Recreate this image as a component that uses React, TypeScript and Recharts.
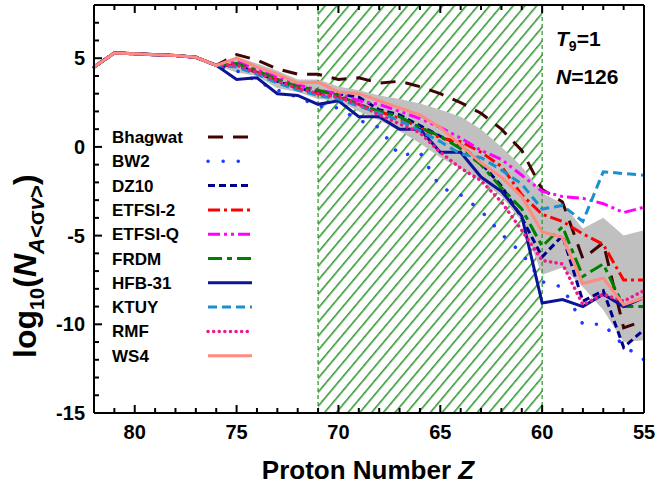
import React from "react";
import {
  ComposedChart,
  Line,
  Area,
  XAxis,
  YAxis,
  ReferenceArea,
  ReferenceLine,
  Legend,
  Customized,
} from "recharts";

const FONT = '"Liberation Sans", Arial, sans-serif';

// proton number, left to right on the plot
const protonZ = [82, 81, 80, 79, 78, 77, 76, 75, 74, 73, 72, 71, 70, 69, 68, 67, 66, 65, 64, 63, 62, 61, 60, 59, 58, 57, 56, 55];

// Z = 82..76, every model sits on the same curve here
const sharedHead = [4.5, 5.3, 5.25, 5.2, 5.15, 5.05, 4.6];

// Z = 75..55
const bhagwat = [5.2, 4.9, 4.4, 4.1, 4.1, 3.8, 3.9, 3.6, 3.7, 3.4, 3.0, 2.5, 1.9, 1.0, -0.2, -2.4, -3.1, -6.3, -5.4, -10.2, -9.8];
const bw2 = [4.3, 3.7, 3.2, 2.8, 2.3, 2.2, 1.5, 1.1, -0.5, -0.3, -2.3, -2.7, -3.6, -4.9, -6.0, -7.6, -7.9, -10.0, -10.0, -11.2, -12.0];
const dz10 = [4.6, 4.2, 3.7, 3.3, 3.1, 3.0, 2.8, 2.1, 1.8, 1.2, 0.6, 0.1, -0.9, -2.2, -4.0, -6.2, -5.0, -8.7, -8.1, -11.3, -10.3];
const etfsi2 = [4.6, 4.2, 3.8, 3.3, 3.0, 2.8, 2.4, 2.0, 1.6, 1.1, 0.5, 0.3, -0.3, -1.1, -2.7, -3.8, -4.2, -4.9, -5.5, -7.5, -7.5];
const etfsiQ = [4.8, 4.4, 3.9, 3.5, 3.2, 3.0, 2.6, 2.4, 2.0, 1.6, 1.1, 0.5, -0.2, -0.7, -1.6, -2.5, -2.8, -2.9, -3.2, -3.7, -3.4];
const frdm = [4.7, 4.3, 3.8, 3.4, 3.2, 2.9, 2.4, 2.0, 1.7, 1.1, 0.6, -0.1, -1.0, -2.3, -3.5, -5.6, -4.5, -7.3, -6.6, -9.0, -9.0];
const hfb31 = [3.8, 3.9, 3.0, 2.9, 2.4, 2.6, 1.7, 1.7, 1.0, 1.0, -0.3, -0.3, -1.7, -2.5, -3.9, -8.8, -8.6, -9.0, -8.3, -9.0, -8.5];
const ktuy = [4.5, 4.1, 3.6, 3.2, 2.9, 2.7, 2.3, 1.9, 1.5, 0.9, 0.3, -0.4, -0.6, -1.3, -2.1, -3.5, -3.3, -4.2, -1.4, -1.5, -1.6];
const rmf = [4.6, 4.2, 3.7, 3.3, 3.0, 2.8, 2.4, 1.8, 1.3, 0.8, -0.3, -1.2, -1.9, -3.1, -4.7, -6.4, -6.6, -8.9, -8.3, -8.7, -8.1];
const ws4 = [5.0, 4.5, 4.1, 3.6, 3.65, 3.1, 3.0, 2.6, 2.2, 1.8, 1.1, 0.1, -0.9, -1.7, -2.8, -4.8, -5.1, -7.7, -7.4, -8.9, -8.5];

// grey uncertainty band, Z = 76..55
const bandHigh = [4.6, 5.1, 4.7, 4.3, 3.8, 3.8, 3.4, 3.2, 2.9, 2.7, 2.45, 2.1, 1.7, 1.0, 0.0, -1.1, -2.6, -3.2, -4.6, -4.0, -5.0, -4.7];
const bandLow = [4.6, 4.2, 4.0, 3.3, 3.1, 2.7, 2.6, 2.0, 1.5, 0.9, 0.2, -0.6, -1.2, -1.9, -2.8, -4.2, -7.2, -6.8, -7.9, -9.2, -11.0, -10.9];

const yTicks = [-15, -14, -13, -12, -11, -10, -9, -8, -7, -6, -5, -4, -3, -2, -1, 0, 1, 2, 3, 4, 5, 6, 7, 8];
const xLabels = [55, 60, 65, 70, 75, 80];
const yLabels = [-15, -10, -5, 0, 5];

const series = [
  { key: "bhagwat", name: "Bhagwat", values: bhagwat, color: "#3f0505", dash: "15 10", cap: "butt" },
  { key: "bw2", name: "BW2", values: bw2, color: "#1f3cff", dash: "0.1 15", cap: "round" },
  { key: "dz10", name: "DZ10", values: dz10, color: "#00008b", dash: "7 4", cap: "butt" },
  { key: "etfsi2", name: "ETFSI-2", values: etfsi2, color: "#ff0000", dash: "12 4 3 4", cap: "butt" },
  { key: "etfsiQ", name: "ETFSI-Q", values: etfsiQ, color: "#ff00ff", dash: "12 4 3 4 3 4", cap: "butt" },
  { key: "frdm", name: "FRDM", values: frdm, color: "#008000", dash: "14 5 5 5", cap: "butt" },
  { key: "hfb31", name: "HFB-31", values: hfb31, color: "#0b1496", dash: undefined, cap: "butt" },
  { key: "ktuy", name: "KTUY", values: ktuy, color: "#1a90d0", dash: "9 5", cap: "butt" },
  { key: "rmf", name: "RMF", values: rmf, color: "#f0188a", dash: "0.1 5.5", cap: "round" },
  { key: "ws4", name: "WS4", values: ws4, color: "#ff8a80", dash: undefined, cap: "butt" },
];

const data = protonZ.map((z, i) => {
  const row: any = { z };
  series.forEach((s) => {
    row[s.key] = i < sharedHead.length ? sharedHead[i] : s.values[i - sharedHead.length];
  });
  row.band = i >= 6 ? [bandLow[i - 6], bandHigh[i - 6]] : null;
  return row;
});

const textStyle = { fontFamily: FONT, fontWeight: "bold" as const, fill: "#000" };

const BottomTick = ({ x, y, payload }: any) => {
  const major = payload.value % 5 === 0;
  return (
    <g>
      <line x1={x} x2={x} y1={y} y2={y - (major ? 8 : 5)} stroke="#000" strokeWidth={2} />
      {xLabels.includes(payload.value) && (
        <text x={x} y={y + 26} textAnchor="middle" fontSize={20} {...textStyle}>
          {payload.value}
        </text>
      )}
    </g>
  );
};

const TopTick = ({ x, y, payload }: any) => {
  const major = payload.value % 5 === 0;
  return <line x1={x} x2={x} y1={y} y2={y + (major ? 8 : 5)} stroke="#000" strokeWidth={2} />;
};

const LeftTick = ({ x, y, payload }: any) => {
  const major = payload.value % 5 === 0;
  return (
    <g>
      <line x1={x} x2={x + (major ? 8 : 5)} y1={y} y2={y} stroke="#000" strokeWidth={2} />
      {yLabels.includes(payload.value) && (
        <text x={x - 9} y={y + 7} textAnchor="end" fontSize={20} {...textStyle}>
          {payload.value}
        </text>
      )}
    </g>
  );
};

const RightTick = ({ x, y, payload }: any) => {
  const major = payload.value % 5 === 0;
  return <line x1={x} x2={x - (major ? 8 : 5)} y1={y} y2={y} stroke="#000" strokeWidth={2} />;
};

const renderLegend = () => (
  <svg width={170} height={250}>
    {series.map((s, i) => {
      const cy = 17 + i * 24.3;
      return (
        <g key={s.key}>
          <text x={12} y={cy + 6} fontSize={17} {...textStyle}>
            {s.name}
          </text>
          <line
            x1={108}
            x2={152}
            y1={cy}
            y2={cy}
            stroke={s.color}
            strokeWidth={s.cap === "round" ? 3.5 : 3}
            strokeDasharray={s.dash}
            strokeLinecap={s.cap as any}
          />
        </g>
      );
    })}
  </svg>
);

const YTitle = () => (
  <text transform="translate(36,358) rotate(-90)" textAnchor="start" fontSize={32} {...textStyle}>
    <tspan>log</tspan>
    <tspan fontSize={20} dy={8}>10</tspan>
    <tspan dy={-8}>(</tspan>
    <tspan fontStyle="italic">N</tspan>
    <tspan fontSize={22} dy={8} fontStyle="italic">A</tspan>
    <tspan fontSize={22}>{"<σ"}</tspan>
    <tspan fontSize={22} fontStyle="italic">v</tspan>
    <tspan fontSize={22}>{">"}</tspan>
    <tspan dy={-8}>)</tspan>
  </text>
);

const XTitle = () => (
  <text x={368} y={479} textAnchor="middle" fontSize={26} {...textStyle}>
    Proton Number <tspan fontStyle="italic">Z</tspan>
  </text>
);

const Notes = () => (
  <g>
    <text x={556} y={46} fontSize={21} {...textStyle}>
      <tspan fontStyle="italic">T</tspan>
      <tspan fontSize={14} dy={5}>9</tspan>
      <tspan dy={-5}>=1</tspan>
    </text>
    <text x={556} y={84} fontSize={21} {...textStyle}>
      <tspan fontStyle="italic">N</tspan>=126
    </text>
  </g>
);

export default function App() {
  return (
    <div style={{ position: "absolute", left: 0, top: 0, width: 659, height: 490, background: "#fff" }}>
      <ComposedChart width={659} height={490} data={data} margin={{ top: 0, right: 0, bottom: 0, left: 0 }}>
        <defs>
          <pattern id="hatch" patternUnits="userSpaceOnUse" width={9} height={9} patternTransform="rotate(40)">
            <line x1={0.8} y1={0} x2={0.8} y2={9} stroke="#279227" strokeWidth={1.5} />
          </pattern>
        </defs>
        <XAxis
          dataKey="z"
          type="number"
          domain={[55, 82]}
          reversed
          ticks={protonZ}
          interval={0}
          height={77}
          tickSize={0}
          tickMargin={0}
          tickLine={false}
          tick={<BottomTick />}
          axisLine={{ stroke: "#000", strokeWidth: 2 }}
          label={{ content: () => <XTitle /> }}
        />
        <XAxis
          xAxisId="top"
          orientation="top"
          dataKey="z"
          type="number"
          domain={[55, 82]}
          reversed
          ticks={protonZ}
          interval={0}
          height={5}
          tickSize={0}
          tickMargin={0}
          tickLine={false}
          tick={<TopTick />}
          axisLine={{ stroke: "#000", strokeWidth: 2 }}
        />
        <YAxis
          type="number"
          domain={[-15, 8]}
          ticks={yTicks}
          interval={0}
          width={94}
          tickSize={0}
          tickMargin={0}
          tickLine={false}
          tick={<LeftTick />}
          axisLine={{ stroke: "#000", strokeWidth: 2 }}
          label={{ content: () => <YTitle /> }}
        />
        <YAxis
          yAxisId="right"
          orientation="right"
          type="number"
          domain={[-15, 8]}
          ticks={yTicks}
          interval={0}
          width={15}
          tickSize={0}
          tickMargin={0}
          tickLine={false}
          tick={<RightTick />}
          axisLine={{ stroke: "#000", strokeWidth: 2 }}
        />
        <ReferenceArea x1={71} x2={60} fill="url(#hatch)" fillOpacity={1} stroke="none" />
        <ReferenceLine x={71} stroke="#279227" strokeWidth={1.2} strokeDasharray="4 3" />
        <ReferenceLine x={60} stroke="#279227" strokeWidth={1.2} strokeDasharray="4 3" />
        <Area
          dataKey="band"
          type="linear"
          fill="#c0c0c0"
          fillOpacity={1}
          stroke="none"
          isAnimationActive={false}
          legendType="none"
        />
        {series.map((s) => (
          <Line
            key={s.key}
            dataKey={s.key}
            name={s.name}
            type="linear"
            stroke={s.color}
            strokeWidth={s.cap === "round" ? 3.5 : 3}
            strokeDasharray={s.dash}
            strokeLinecap={s.cap as any}
            dot={false}
            activeDot={false}
            isAnimationActive={false}
          />
        ))}
        <Legend
          layout="vertical"
          align="center"
          verticalAlign="middle"
          content={renderLegend}
          wrapperStyle={{ position: "absolute", left: 100, top: 120, width: 170, height: 250 }}
        />
        <Customized component={<Notes />} />
      </ComposedChart>
    </div>
  );
}
